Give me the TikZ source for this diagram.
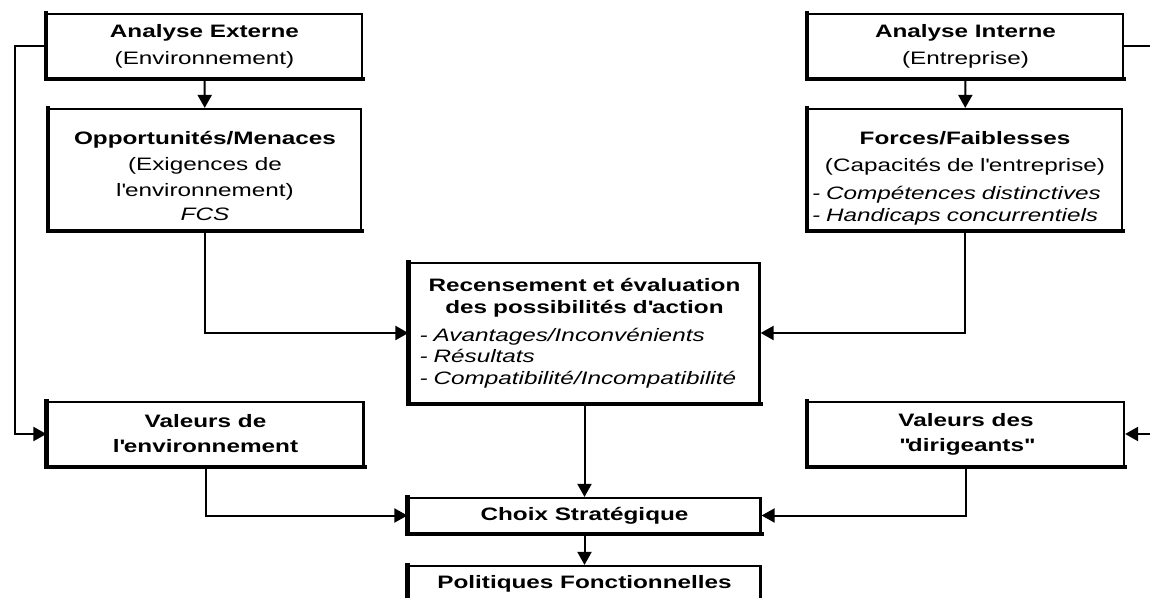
\documentclass[tikz,border=0pt]{standalone}
\usepackage{fontspec}
\setmainfont{Liberation Sans}[FakeStretch=1.35]
\usepackage{tikz}
\usetikzlibrary{arrows.meta,positioning,calc}

\begin{document}
\begin{tikzpicture}[
    x=0.5pt,y=-0.5pt,
    >={Triangle[length=6.5pt,width=7pt]},
    every node/.style={font=\fontsize{9}{11}\selectfont},
    bloc/.style={rectangle,draw,line width=1.1pt,fill=white,
                 inner sep=2pt,align=center},
    liste/.style={bloc,align=left},
    ombre/.style={line width=2.2pt,line cap=rect},
    arr/.style={->,line width=1pt}
  ]
  \useasboundingbox (0,0) rectangle (1150,598);
  \clip (0,0) rectangle (1150,598);
  \node[bloc,minimum width=157.5pt,minimum height=32pt] (ext) at (204.5,46)
        {\textbf{Analyse Externe}\\[2.5pt](Environnement)};
  \node[bloc,minimum width=157.5pt,minimum height=32pt] (int) at (965.5,46)
        {\textbf{Analyse Interne}\\[2.5pt](Entreprise)};
  \node[bloc,minimum width=156pt,minimum height=60.5pt] (opp) at (205,169.5)
        {\rule{0pt}{13pt}\textbf{Opportunités/Menaces}\\[2pt](Exigences de\\[2pt]l\textquotesingle environnement)\\[1pt]\textit{FCS}};
  \node[liste,text width=153pt,minimum width=157pt,minimum height=60.5pt] (forc) at (965,169.5)
        {{\centering\rule{0pt}{15pt}\textbf{Forces/Faiblesses}\\[2.5pt](Capacités de l\textquotesingle entreprise)\\[3pt]\par}
         \textit{- Compétences distinctives}\\\textit{- Handicaps concurrentiels}};
  \node[liste,text width=165pt,minimum width=175pt,minimum height=70pt] (rec) at (584.5,333)
        {{\centering\textbf{Recensement et évaluation}\\\textbf{des possibilités d\textquotesingle action}\\[4pt]\par}
         \fontsize{9}{10.3}\selectfont
         \textit{- Avantages/Inconvénients}\\\textit{- Résultats}\\\textit{- Compatibilité/Incompatibilité}};
  \node[bloc,minimum width=158pt,minimum height=32pt] (venv) at (205.5,434)
        {\textbf{Valeurs de}\\[1.5pt]\textbf{l\textquotesingle environnement}};
  \node[bloc,minimum width=158pt,minimum height=32pt] (vdir) at (966,434)
        {\textbf{Valeurs des}\\[1.5pt]\textbf{\textquotedbl dirigeants\textquotedbl}};
  \node[bloc,minimum width=176pt,minimum height=17.5pt] (choix) at (584.5,515.5)
        {\textbf{Choix Stratégique}};
  \node[bloc,minimum width=176pt,minimum height=18pt] (pol) at (584.5,584)
        {\textbf{Politiques Fonctionnelles}};
  %% Shadowed edges
  \foreach \n in {ext,int,opp,forc,rec,venv,vdir,choix,pol}
    \draw[ombre] (\n.north west) -- (\n.south west) -- (\n.south east);
  %% Connectors
  \coordinate (gauche) at (15,434);
  \coordinate (droite) at (1162,434);
  \draw[arr] (ext) -- (opp);
  \draw[arr] (int) -- (forc);
  \draw[arr] (ext.west) -| (gauche) -- (venv.west);
  \draw[arr] (int.east) -| (droite) -- (vdir.east);
  \draw[arr] (opp) |- (rec);
  \draw[arr] (forc) |- (rec);
  \draw[arr] (rec) -- (choix);
  \draw[arr] (venv) |- (choix);
  \draw[arr] (vdir) |- (choix);
  \draw[arr] (choix) -- (pol);
\end{tikzpicture}
\end{document}
